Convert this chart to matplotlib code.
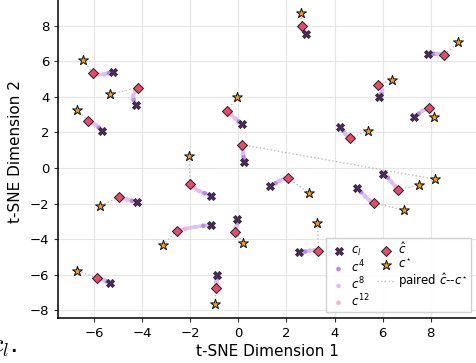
import matplotlib
matplotlib.use("Agg")
import matplotlib.pyplot as plt
import numpy as np

# t-SNE coordinates (one entry per cluster)
cl = [(-5.20, 5.40), (-4.25, 3.54), (-5.65, 2.10), (-1.14, -1.55), (0.14, 2.49),
      (0.25, 0.33), (2.81, 7.54), (7.90, 6.42), (5.86, 3.99), (7.32, 2.87),
      (4.23, 2.30), (6.02, -0.33), (1.32, -1.04), (2.54, -4.74), (-0.07, -2.88),
      (-4.22, -1.92), (-1.14, -3.22), (-5.33, -6.49), (-0.90, -6.05), (4.93, -1.13)]
c4 = [(-5.38, 5.34), (-4.35, 3.85), (-5.80, 2.28), (-1.40, -1.42), (0.02, 2.62),
      (0.22, 0.62), (2.76, 7.65), (8.12, 6.42), (5.95, 4.20), (7.50, 3.05),
      (4.35, 2.10), (6.22, -0.55), (1.55, -0.85), (2.78, -4.70), (-0.05, -3.10),
      (-4.42, -1.85), (-1.45, -3.25), (-5.48, -6.38), (-0.90, -6.25), (5.10, -1.35)]
c8 = [(-5.58, 5.27), (-4.37, 4.05), (-5.93, 2.42), (-1.62, -1.30), (-0.12, 2.78),
      (0.20, 0.85), (2.72, 7.75), (8.28, 6.42), (5.98, 4.37), (7.65, 3.22),
      (4.45, 1.92), (6.38, -0.80), (1.72, -0.72), (2.98, -4.65), (-0.08, -3.30),
      (-4.62, -1.77), (-1.80, -3.32), (-5.60, -6.30), (-0.91, -6.42), (5.28, -1.60)]
c12 = [(-5.85, 5.28), (-4.28, 4.30), (-6.08, 2.55), (-1.82, -1.12), (-0.30, 3.00),
       (0.17, 1.08), (2.68, 7.86), (8.42, 6.40), (5.90, 4.55), (7.80, 3.32),
       (4.55, 1.78), (6.52, -1.02), (1.90, -0.60), (3.15, -4.64), (-0.10, -3.48),
       (-4.80, -1.70), (-2.20, -3.42), (-5.75, -6.22), (-0.92, -6.58), (5.48, -1.85)]
chat = [(-6.05, 5.35), (-4.18, 4.50), (-6.24, 2.66), (-2.01, -0.91), (-0.48, 3.22),
        (0.14, 1.31), (2.64, 7.97), (8.57, 6.38), (5.82, 4.69), (7.94, 3.37),
        (4.64, 1.68), (6.63, -1.23), (2.05, -0.55), (3.33, -4.65), (-0.12, -3.61),
        (-4.96, -1.64), (-2.56, -3.52), (-5.89, -6.17), (-0.93, -6.73), (5.65, -1.98)]
cstar = [(-6.47, 6.10), (-5.33, 4.16), (-6.69, 3.24), (-2.04, 0.70), (-0.04, 3.97),
         (8.18, -0.63), (2.61, 8.73), (9.15, 7.07), (6.40, 4.97), (8.15, 2.87),
         (5.38, 2.11), (7.51, -0.95), (2.95, -1.42), (3.29, -3.10), (0.21, -4.23),
         (-5.75, -2.13), (-3.14, -4.35), (-6.69, -5.79), (-0.97, -7.65), (6.90, -2.36)]

x_ticks = [-6, -4, -2, 0, 2, 4, 6, 8]
y_ticks = [-8, -6, -4, -2, 0, 2, 4, 6, 8]

col_cl = '#4d2a5e'
col_c4 = '#b98be6'
col_c8 = '#d9c0f4'
col_c12 = '#f5b5d6'
col_hat = '#e64b6d'
col_star = '#f0a010'

fig = plt.figure(figsize=(4.77, 3.63), dpi=100)
ax = fig.add_axes([58.3 / 477, 44.7 / 363, 418.4 / 477, 333.3 / 363])

cl_a, c4_a, c8_a, c12_a = np.array(cl), np.array(c4), np.array(c8), np.array(c12)
hat_a, star_a = np.array(chat), np.array(cstar)

# trajectories c_l -> c^4 -> c^8 -> c^12 -> c_hat, then dotted pair line
for i in range(len(cl)):
    path = np.array([cl[i], c4[i], c8[i], c12[i], chat[i]])
    ax.plot(path[:, 0], path[:, 1], color='#c4a0ee', lw=2.6, alpha=0.6,
            solid_capstyle='round', zorder=2)
    ax.plot([chat[i][0], cstar[i][0]], [chat[i][1], cstar[i][1]],
            color='#bdbdbd', ls=':', lw=1.0, zorder=1)

ax.scatter(cl_a[:, 0], cl_a[:, 1], marker='X', s=34, color=col_cl,
           edgecolors='#222222', linewidths=0.5, zorder=4, label='$c_l$')
ax.scatter(c4_a[:, 0], c4_a[:, 1], marker='o', s=11, color=col_c4,
           edgecolors='none', zorder=3, label='$c^4$')
ax.scatter(c8_a[:, 0], c8_a[:, 1], marker='o', s=11, color=col_c8,
           edgecolors='none', zorder=3, label='$c^8$')
ax.scatter(c12_a[:, 0], c12_a[:, 1], marker='o', s=11, color=col_c12,
           edgecolors='none', zorder=3, label='$c^{12}$')
ax.scatter(hat_a[:, 0], hat_a[:, 1], marker='D', s=26, color=col_hat,
           edgecolors='#222222', linewidths=0.7, zorder=5, label=r'$\hat{c}$')
ax.scatter(star_a[:, 0], star_a[:, 1], marker='*', s=55, color=col_star,
           edgecolors='#111111', linewidths=0.7, zorder=5, label=r'$c^{\star}$')
ax.plot([], [], color='#bdbdbd', ls=':', lw=1.0, label=r'paired $\hat{c}$--$c^{\star}$')

ax.set_xlim(-7.48, 9.91)
ax.set_ylim(-8.46, 10.3)
ax.set_xticks(x_ticks)
ax.set_yticks(y_ticks)
ax.tick_params(labelsize=9.5, length=3, width=0.8, color='#333333')
ax.grid(True, color='#e6e6e6', lw=0.8)
ax.set_axisbelow(True)
for s in ['top', 'right']:
    ax.spines[s].set_visible(False)
for s in ['left', 'bottom']:
    ax.spines[s].set_linewidth(1.1)
    ax.spines[s].set_color('black')

ax.set_xlabel('t-SNE Dimension 1', fontsize=11, labelpad=3)
ax.set_ylabel('t-SNE Dimension 2', fontsize=11, labelpad=5)

ax.legend(ncol=2, loc='lower right', fontsize=8.5, frameon=True, fancybox=False,
          edgecolor='#cccccc', framealpha=0.9, handletextpad=0.3, handlelength=1.5,
          columnspacing=0.6, labelspacing=0.02, borderpad=0.3, borderaxespad=0.5)

# caption fragment from the page, cut at the left edge
fig.text(-0.018, 0.03, r'$c_l$.', fontsize=19, math_fontfamily='cm')

fig.savefig('out.png', dpi=100)
